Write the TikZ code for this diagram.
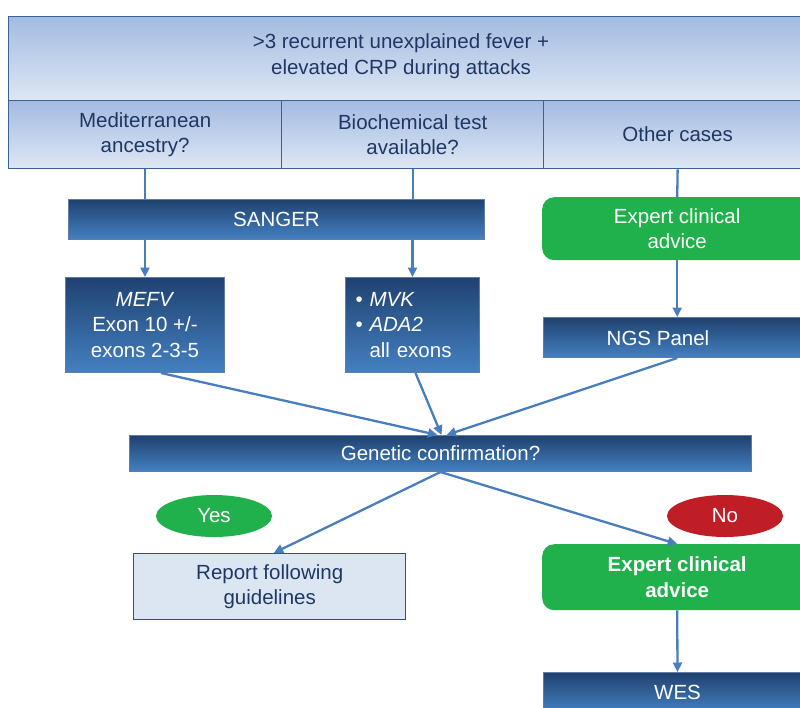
\documentclass[tikz,border=0pt]{standalone}
\usepackage{fontspec}
\setmainfont{Liberation Sans}
\usetikzlibrary{arrows.meta,shapes.geometric}

\definecolor{hdrtop}{RGB}{163,187,225}
\definecolor{hdrbot}{RGB}{222,231,244}
\definecolor{hdredge}{RGB}{58,98,150}
\definecolor{hdrtext}{RGB}{30,55,100}
\definecolor{dktop}{RGB}{31,66,112}
\definecolor{dkbot}{RGB}{68,128,193}
\definecolor{dkedge}{RGB}{95,125,165}
\definecolor{advgreen}{RGB}{33,177,76}
\definecolor{nored}{RGB}{192,30,38}
\definecolor{rptfill}{RGB}{220,230,242}
\definecolor{rptedge}{RGB}{44,80,140}
\definecolor{flow}{RGB}{72,125,190}

\tikzset{
  every node/.style={font=\fontsize{20.5}{25.5}\selectfont},
  hdrcell/.style={rectangle, draw=hdredge, line width=1.3pt, top color=hdrtop,
    bottom color=hdrbot, inner sep=0pt, anchor=north west, text=hdrtext, align=center},
  dkbox/.style={rectangle, draw=dkedge, line width=1pt, top color=dktop,
    bottom color=dkbot, inner sep=0pt, anchor=north west, text=white, align=center},
  greenbox/.style={rectangle, fill=advgreen, rounded corners=12pt, inner sep=0pt,
    anchor=north west, text=white, align=center},
  rptbox/.style={rectangle, draw=rptedge, line width=1.4pt, fill=rptfill, inner sep=0pt,
    anchor=north west, text=hdrtext, align=center},
  pill/.style={ellipse, minimum width=116pt, minimum height=42pt, inner sep=0pt, text=white},
  flowline/.style={draw=flow, line width=2.3pt},
  flowarrow/.style={flowline, -{Triangle[length=9.5pt,width=9pt]}}
}

\begin{document}
\begin{tikzpicture}[x=1pt,y=-1pt]
\useasboundingbox (0,0) rectangle (800,707);
\clip (0,0) rectangle (800,707);

% header table
\node[hdrcell, minimum width=830pt, minimum height=84pt] (top) at (8,16) {};
\node[text=hdrtext, align=center] (toptext) at (401,56) {>3 recurrent unexplained fever +\\elevated CRP during attacks};
\node[hdrcell, minimum width=273pt, minimum height=68pt] (med) at (8,100) {Mediterranean\\ancestry?};
\node[hdrcell, minimum width=262pt, minimum height=68pt] (bio) at (281,100) {Biochemical test\\available?};
\node[hdrcell, minimum width=268pt, minimum height=68pt] (oth) at (543,100) {Other cases};

% sequencing steps
\node[dkbox, minimum width=416pt, minimum height=40pt] (sanger) at (68,199) {SANGER};
\node[dkbox, minimum width=159pt, minimum height=95pt] (mefv) at (65,277)
  {\textit{MEFV}\\Exon 10 +/-\\exons 2-3-5};
\node[dkbox, minimum width=134pt, minimum height=95pt, text width=114pt, align=left] (mvk) at (345,277)
  {\textbullet\ \textit{MVK}\\\textbullet\ \textit{ADA2}\\\phantom{\textbullet\ }all exons};
\node[greenbox, minimum width=270pt, minimum height=63pt] (adv1) at (542,197) {Expert clinical\\advice};
\node[dkbox, minimum width=290pt, minimum height=40pt] (ngs) at (543,317) {};
\node[text=white] (ngstext) at (658,338) {NGS Panel};

% outcome
\node[dkbox, minimum width=622pt, minimum height=36pt] (gen) at (129,435) {Genetic confirmation?};
\node[pill, fill=advgreen] (yes) at (214,516) {Yes};
\node[pill, fill=nored] (no) at (725,516) {No};
\node[rptbox, minimum width=272pt, minimum height=66pt] (rpt) at (133,553) {Report following\\guidelines};
\node[greenbox, minimum width=270pt, minimum height=66pt, font=\fontsize{20.5}{25.5}\selectfont\bfseries] (adv2) at (542,544) {Expert clinical\\advice};
\node[dkbox, minimum width=268pt, minimum height=40pt] (wes) at (543,672) {WES};

% connectors
\draw[flowline] (med.south) -- (med.south |- sanger.north);
\draw[flowline] (bio.south) -- (bio.south |- sanger.north);
\draw[flowline] (oth.south) -- (adv1.north);
\draw[flowarrow] (sanger.south -| mefv.north) -- (mefv.north);
\draw[flowarrow] (sanger.south -| mvk.north) -- (mvk.north);
\draw[flowarrow] (adv1.south) -- (adv1.south |- ngs.north);
\draw[flowarrow] ([xshift=16pt]mefv.south) -- ([xshift=-3pt]gen.north);
\draw[flowarrow] ([xshift=3pt]mvk.south) -- ([xshift=1pt]gen.north);
\draw[flowarrow] (adv1.south |- ngs.south) -- ([xshift=6pt]gen.north);
\draw[flowarrow] (gen.south) -- ([xshift=4pt]rpt.north);
\draw[flowarrow] (gen.south) -- (adv2.north);
\draw[flowarrow] (adv2.south) -- (wes.north);
\end{tikzpicture}
\end{document}
